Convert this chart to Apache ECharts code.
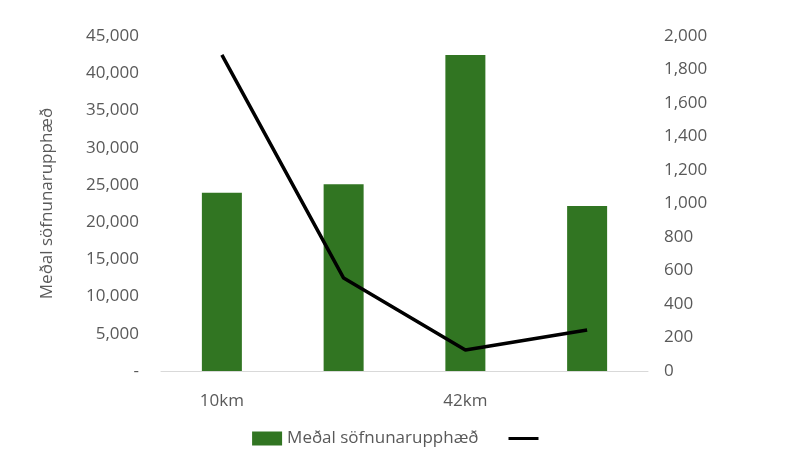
<!DOCTYPE html>
<html><head><meta charset="utf-8">
<script src="https://cdn.jsdelivr.net/npm/echarts@6/dist/echarts.min.js"></script>
<style>html,body{margin:0;background:#fff}#c{width:800px;height:466px}</style>
</head><body><div id="c"></div>
<script>
const categories = ["10km", "21km", "42km", "Skemmtisk.."];
const avgAmount = [23950, 25100, 42450, 22170];
const lineValues = [1887, 555, 125, 245];
const barName = "Meðal söfnunarupphæð";

const chart = echarts.init(document.getElementById("c"));
const txt = { color: "#595959", fontSize: 17, fontFamily: "Open Sans" };
chart.setOption({
  animation: false,
  grid: { left: 161, right: 152, top: 36, bottom: 95 },
  legend: {
    bottom: 14, left: "center", itemGap: 30,
    textStyle: txt,
    data: [{ name: barName, icon: "rect" }, { name: " ", icon: "path://M0,0H10V1H0Z" }],
    itemWidth: 30, itemHeight: 14
  },
  xAxis: {
    type: "category", data: categories,
    axisLine: { lineStyle: { color: "#d9d9d9" } }, axisTick: { show: false },
    axisLabel: { ...txt, margin: 22 }
  },
  yAxis: [
    { type: "value", min: 0, max: 45000, interval: 5000,
      name: "Meðal söfnunarupphæð", nameLocation: "middle", nameGap: 105,
      nameTextStyle: txt, splitLine: { show: false },
      axisLabel: { ...txt, margin: 22, formatter: v => v === 0 ? "-" : v.toLocaleString("en-US") } },
    { type: "value", min: 0, max: 2000, interval: 200, splitLine: { show: false },
      axisLabel: { ...txt, margin: 16, formatter: v => v.toLocaleString("en-US") } }
  ],
  series: [
    { name: barName, type: "bar", data: avgAmount, barWidth: 40, itemStyle: { color: "#317522" } },
    { name: " ", type: "line", yAxisIndex: 1, data: lineValues, symbol: "none",
      lineStyle: { color: "#000", width: 3.5 }, itemStyle: { color: "#000" } }
  ]
});
</script></body></html>
